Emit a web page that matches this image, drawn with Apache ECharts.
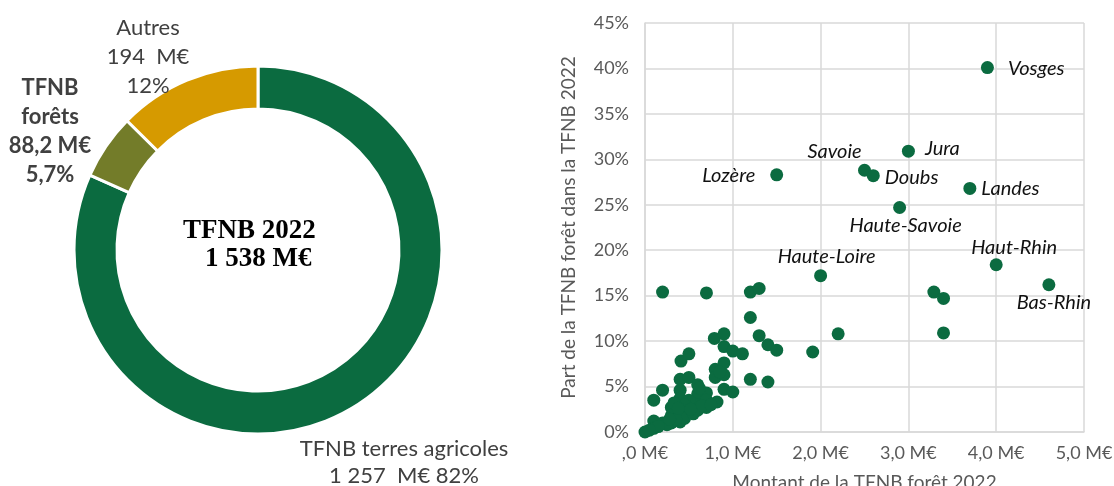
<!DOCTYPE html>
<html>
<head>
<meta charset="utf-8">
<script src="https://cdn.jsdelivr.net/npm/echarts@6/dist/echarts.min.js"></script>
<style>
html,body{margin:0;padding:0;background:#fff;}
#chart{width:1114px;height:486px;}
</style>
</head>
<body>
<div id="chart"></div>
<script>
// ---- Donut data ----
const pieNames = ['TFNB terres agricoles', 'TFNB forêts', 'Autres'];
const pieValues = [1257, 88.2, 194];
const pieValueText = ['1 257  M€', '88,2 M€', '194  M€'];
const piePercentText = ['82%', '5,7%', '12%'];
const centerTitle = 'TFNB 2022';
const centerTotal = '1 538 M€';

// ---- Scatter data ----
const deptNames = ['Vosges','Jura','Savoie','Doubs','Lozère','Landes','Haute-Savoie','Haute-Loire','Haut-Rhin','Bas-Rhin'];
const montant = [
  3.90, 3.00, 2.50, 2.60, 1.50, 3.70, 2.90, 2.00, 4.00, 4.60,
  3.29, 3.40, 3.40, 2.20, 1.91,
  0.20, 0.70, 1.20, 1.30, 1.20, 0.79, 0.90, 1.30, 0.90, 1.00,
  1.11, 1.40, 1.50, 0.41, 0.50, 0.80, 0.90, 0.80, 0.90, 1.20,
  1.40, 0.40, 0.50, 0.20, 0.10, 0.40, 0.40, 0.60, 0.60, 0.70,
  0.90, 1.00, 0.82, 0.70, 0.60, 0.50, 0.30, 0.40, 0.30, 0.40,
  0.30, 0.20, 0.10, 0.10, 0.00, 0.70, 0.60, 0.50, 0.35, 0.45,
  0.25, 0.55, 0.65, 0.75, 0.62, 0.85, 0.15, 0.05, 0.35, 0.45,
  0.33, 0.38, 0.52, 0.28
];
const partForet = [
  40.1, 30.9, 28.8, 28.2, 28.3, 26.8, 24.7, 17.2, 18.4, 16.2,
  15.4, 14.7, 10.9, 10.8, 8.8,
  15.4, 15.3, 15.4, 15.8, 12.6, 10.3, 10.8, 10.6, 9.4, 8.9,
  8.6, 9.6, 9.0, 7.8, 8.6, 6.9, 7.6, 6.0, 6.3, 5.8,
  5.5, 5.8, 6.0, 4.6, 3.5, 4.6, 3.7, 5.2, 4.2, 4.3,
  4.7, 4.4, 3.3, 2.7, 2.4, 2.7, 2.7, 2.0, 1.8, 1.1,
  1.0, 1.0, 1.2, 0.4, 0.0, 3.5, 3.0, 3.5, 2.2, 1.5,
  0.8, 2.0, 2.9, 3.0, 4.8, 6.6, 0.6, 0.2, 1.4, 3.0,
  3.2, 2.6, 2.5, 1.4
];
const xTickLabels = [',0 M€', '1,0 M€', '2,0 M€', '3,0 M€', '4,0 M€', '5,0 M€'];
const yTickLabels = ['0%','5%','10%','15%','20%','25%','30%','35%','40%','45%'];
const xAxisTitle = 'Montant de la TFNB forêt 2022';
const yAxisTitle = 'Part de la TFNB forêt dans la TFNB 2022';

// ---- styles ----
const GREEN = '#0b6b40';
const OLIVE = '#737c29';
const GOLD = '#d69a00';
const LBL = '#404040';
const AX = '#595959';
const GRID = '#d9d9d9';
const FONT = 'Lato';

const labelPlacement = {
  'Vosges': {position:'right', distance:14, offset:[0,1]},
  'Jura': {position:'right', distance:10, offset:[0,-3]},
  'Savoie': {position:'top', distance:2, offset:[-30,0]},
  'Doubs': {position:'right', distance:5, offset:[0,2]},
  'Lozère': {position:'left', distance:15, offset:[0,1]},
  'Landes': {position:'right', distance:5, offset:[0,0]},
  'Haute-Savoie': {position:'bottom', distance:2, offset:[6,0]},
  'Haute-Loire': {position:'top', distance:3, offset:[6,0]},
  'Haut-Rhin': {position:'top', distance:0, offset:[18,-1]},
  'Bas-Rhin': {position:'bottom', distance:1, offset:[5,0]}
};

const pieLabelPos = [[404, 462], [50, 131], [148, 57]];
const pieColors = [GREEN, OLIVE, GOLD];

const pieData = pieNames.map((n, i) => ({
  name: n,
  value: pieValues[i],
  itemStyle: {color: pieColors[i]},
  label: {
    formatter: i === 0 ? (n + '\n' + pieValueText[i] + ' ' + piePercentText[i])
             : i === 1 ? ('TFNB\nforêts\n' + pieValueText[i] + '\n' + piePercentText[i])
             : (n + '\n' + pieValueText[i] + '\n' + piePercentText[i]),
    fontWeight: i === 1 ? 'bold' : 'normal',
    lineHeight: i === 0 ? 27 : 29
  }
}));

const scatterData = montant.map((x, i) => {
  const name = deptNames[i] || '';
  const item = {value: [x, partForet[i]], name: name};
  if (name) {
    const p = labelPlacement[name];
    item.label = {show: true, formatter: name, position: p.position, distance: p.distance, offset: p.offset};
  }
  return item;
});

const chart = echarts.init(document.getElementById('chart'), null, {renderer: 'canvas'});
chart.setOption({
  animation: false,
  backgroundColor: '#fff',
  textStyle: {fontFamily: FONT},
  grid: {left: 645, right: 30, top: 23, bottom: 54, containLabel: false, outerBoundsMode: 'none'},
  xAxis: {
    type: 'value', min: 0, max: 5, interval: 1,
    name: xAxisTitle, nameLocation: 'middle', nameGap: 41,
    nameTextStyle: {color: AX, fontSize: 19, fontFamily: FONT},
    axisLine: {show: true, lineStyle: {color: GRID, width: 1.5}},
    axisTick: {show: false},
    splitLine: {show: true, lineStyle: {color: GRID, width: 1.5}},
    axisLabel: {color: AX, fontSize: 18, margin: 12, fontFamily: FONT,
      formatter: v => xTickLabels[Math.round(v)]}
  },
  yAxis: {
    type: 'value', min: 0, max: 45, interval: 5,
    name: yAxisTitle, nameLocation: 'middle', nameGap: 67, nameRotate: 90,
    nameTextStyle: {color: AX, fontSize: 19, fontFamily: FONT},
    axisLine: {show: true, lineStyle: {color: GRID, width: 1.5}},
    axisTick: {show: false},
    splitLine: {show: true, lineStyle: {color: GRID, width: 1.5}},
    axisLabel: {color: AX, fontSize: 18, margin: 16, fontFamily: FONT,
      formatter: v => yTickLabels[Math.round(v / 5)]}
  },
  series: [
    {
      type: 'pie',
      center: [258, 250],
      radius: [141, 184],
      startAngle: 90,
      clockwise: true,
      avoidLabelOverlap: false,
      itemStyle: {borderColor: '#fff', borderWidth: 3},
      label: {show: true, position: 'outside', color: LBL, fontSize: 22, fontFamily: FONT, align: 'center'},
      labelLine: {show: false},
      labelLayout: function (p) {
        const pos = pieLabelPos[p.dataIndex];
        return {x: pos[0], y: pos[1], align: 'center', verticalAlign: 'middle'};
      },
      emphasis: {disabled: true},
      data: pieData
    },
    {
      type: 'scatter',
      symbolSize: 13,
      itemStyle: {color: GREEN, opacity: 1},
      label: {show: false, color: '#111', fontStyle: 'italic', fontSize: 20, fontFamily: FONT},
      emphasis: {disabled: true},
      data: scatterData
    }
  ],
  graphic: [
    {type: 'text', left: 183, top: 218, style: {text: centerTitle, font: 'bold 27px "Liberation Serif"', fill: '#000'}},
    {type: 'text', left: 205, top: 246, style: {text: centerTotal, font: 'bold 27px "Liberation Serif"', fill: '#000'}}
  ]
});
</script>
</body>
</html>
